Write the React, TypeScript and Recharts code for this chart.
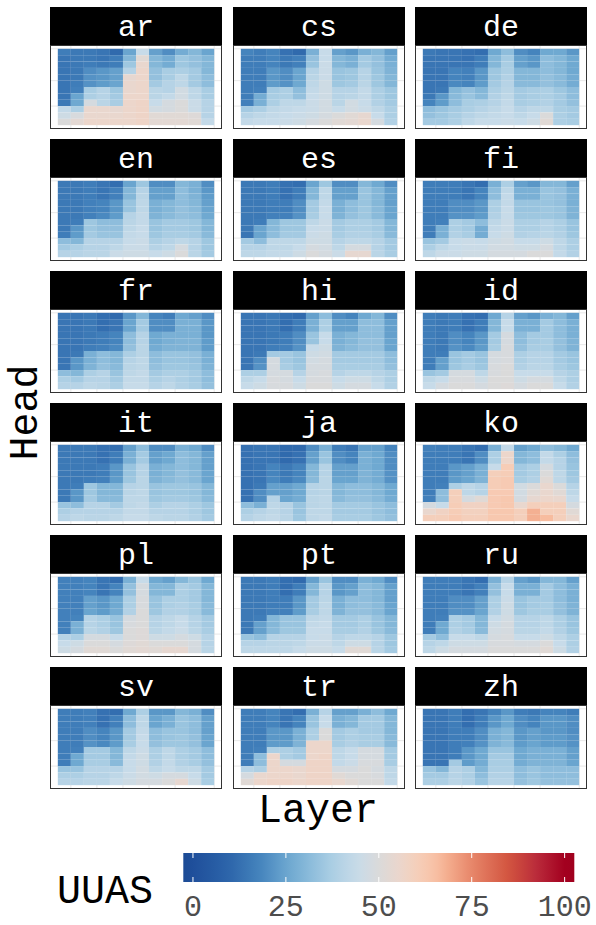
import React from 'react';
import { ScatterChart, Scatter, XAxis, YAxis, CartesianGrid } from 'recharts';

// ---------- data: UUAS per layer (outer) and head (inner, top to bottom) ----------
const languages = ['ar', 'cs', 'de', 'en', 'es', 'fi', 'fr', 'hi', 'id', 'it', 'ja', 'ko', 'pl', 'pt', 'ru', 'sv', 'tr', 'zh'];
const layerIds = [1, 2, 3, 4, 5, 6, 7, 8, 9, 10, 11, 12];
const headIds = [12, 11, 10, 9, 8, 7, 6, 5, 4, 3, 2, 1];
const legendTicks = [0, 25, 50, 75, 100];

const ar = [
  [16, 14, 14, 14, 14, 14, 14, 14, 15, 43, 46, 50],
  [15, 15, 15, 15, 15, 16, 17, 25, 26, 38, 49, 53],
  [15, 15, 16, 20, 21, 21, 37, 38, 48, 55, 55, 56],
  [14, 14, 15, 22, 22, 23, 40, 40, 41, 55, 55, 56],
  [11, 16, 16, 24, 24, 25, 35, 36, 37, 54, 55, 56],
  [25, 30, 35, 40, 54, 55, 55, 56, 56, 56, 56, 56],
  [44, 52, 55, 56, 56, 56, 56, 56, 57, 57, 57, 57],
  [24, 30, 30, 33, 33, 36, 41, 41, 44, 47, 52, 53],
  [20, 27, 27, 37, 37, 40, 40, 43, 48, 48, 52, 53],
  [27, 35, 35, 38, 42, 42, 47, 47, 50, 50, 52, 53],
  [30, 33, 33, 36, 36, 36, 42, 42, 45, 45, 51, 52],
  [25, 30, 30, 30, 32, 32, 37, 37, 40, 40, 40, 43],
];
const cs = [
  [18, 16, 16, 16, 16, 16, 16, 16, 17, 36, 40, 43],
  [16, 16, 16, 16, 16, 16, 17, 27, 28, 38, 42, 44],
  [18, 18, 18, 22, 22, 23, 36, 37, 38, 42, 43, 44],
  [13, 15, 15, 20, 20, 21, 38, 38, 42, 43, 44, 45],
  [11, 17, 17, 25, 25, 26, 32, 33, 42, 44, 45, 46],
  [28, 33, 34, 40, 41, 42, 43, 44, 45, 45, 46, 48],
  [44, 44, 45, 45, 45, 46, 46, 46, 47, 47, 48, 50],
  [24, 30, 30, 34, 34, 35, 40, 40, 41, 44, 50, 52],
  [22, 28, 28, 35, 35, 36, 40, 41, 47, 47, 52, 53],
  [28, 36, 36, 40, 40, 41, 43, 43, 44, 45, 54, 55],
  [30, 33, 33, 34, 35, 35, 38, 38, 39, 42, 44, 48],
  [24, 27, 28, 29, 30, 30, 35, 35, 36, 38, 38, 39],
];
const de = [
  [15, 14, 14, 14, 14, 14, 14, 15, 18, 32, 33, 36],
  [14, 14, 14, 14, 14, 14, 15, 22, 23, 34, 35, 36],
  [14, 14, 14, 18, 18, 19, 30, 31, 32, 36, 37, 38],
  [13, 13, 14, 17, 17, 18, 33, 34, 37, 38, 40, 42],
  [12, 16, 16, 22, 22, 23, 30, 31, 38, 40, 42, 44],
  [26, 30, 30, 35, 35, 36, 38, 39, 40, 42, 43, 44],
  [32, 36, 37, 38, 39, 40, 41, 42, 43, 44, 44, 45],
  [20, 24, 24, 30, 30, 31, 36, 36, 37, 40, 42, 44],
  [18, 22, 22, 30, 30, 31, 37, 37, 38, 42, 44, 46],
  [26, 32, 32, 32, 33, 33, 38, 38, 39, 42, 50, 52],
  [26, 30, 30, 30, 31, 31, 35, 36, 36, 37, 38, 38],
  [22, 26, 26, 26, 27, 27, 32, 32, 33, 36, 36, 37],
];
const en = [
  [15, 15, 15, 15, 15, 15, 15, 15, 16, 32, 36, 40],
  [15, 15, 15, 15, 15, 15, 16, 22, 23, 30, 38, 40],
  [16, 16, 16, 17, 17, 17, 35, 35, 36, 40, 40, 41],
  [14, 14, 14, 18, 18, 19, 32, 33, 34, 40, 40, 41],
  [12, 17, 17, 22, 22, 23, 32, 33, 34, 40, 42, 45],
  [25, 30, 30, 34, 34, 40, 41, 42, 43, 44, 45, 46],
  [35, 40, 41, 42, 42, 43, 43, 44, 44, 45, 45, 46],
  [20, 24, 24, 28, 28, 29, 34, 34, 35, 38, 40, 44],
  [20, 24, 24, 30, 30, 31, 36, 36, 37, 40, 42, 46],
  [30, 32, 32, 32, 33, 33, 36, 36, 37, 42, 48, 50],
  [28, 28, 29, 30, 31, 32, 35, 35, 36, 40, 40, 41],
  [20, 22, 23, 24, 25, 26, 30, 30, 31, 35, 35, 36],
];
const es = [
  [15, 15, 15, 15, 15, 15, 15, 15, 14, 36, 40, 42],
  [15, 15, 15, 15, 15, 15, 16, 25, 25, 32, 40, 42],
  [16, 16, 16, 16, 16, 17, 30, 31, 32, 42, 42, 43],
  [13, 13, 13, 16, 16, 17, 35, 35, 36, 42, 42, 43],
  [12, 16, 16, 20, 20, 21, 35, 35, 36, 42, 44, 46],
  [25, 30, 30, 36, 36, 37, 42, 44, 45, 46, 48, 50],
  [35, 42, 42, 43, 44, 44, 45, 45, 46, 46, 47, 48],
  [20, 24, 24, 28, 28, 29, 36, 36, 37, 40, 42, 45],
  [20, 24, 24, 32, 32, 33, 38, 38, 39, 42, 48, 54],
  [30, 34, 34, 34, 35, 35, 38, 38, 39, 42, 48, 54],
  [26, 30, 30, 30, 31, 31, 36, 36, 37, 40, 40, 41],
  [20, 24, 24, 24, 25, 25, 30, 30, 31, 36, 36, 37],
];
const fi = [
  [16, 16, 16, 16, 16, 16, 16, 16, 16, 34, 38, 42],
  [16, 16, 16, 16, 16, 16, 17, 28, 28, 36, 42, 45],
  [16, 16, 16, 20, 20, 21, 38, 38, 39, 44, 44, 45],
  [14, 14, 14, 20, 20, 21, 36, 36, 37, 45, 45, 46],
  [12, 18, 18, 22, 22, 23, 32, 27, 27, 44, 45, 46],
  [28, 32, 32, 38, 38, 39, 42, 43, 44, 46, 47, 48],
  [38, 42, 43, 43, 44, 44, 45, 45, 46, 47, 47, 48],
  [24, 28, 28, 34, 34, 35, 38, 38, 39, 44, 46, 48],
  [22, 28, 28, 34, 34, 35, 38, 38, 40, 44, 46, 50],
  [30, 34, 34, 34, 35, 35, 40, 40, 41, 46, 48, 50],
  [30, 33, 33, 33, 34, 34, 38, 38, 39, 42, 42, 43],
  [24, 28, 28, 28, 29, 29, 34, 34, 35, 38, 38, 39],
];
const fr = [
  [14, 14, 14, 14, 14, 14, 14, 14, 14, 32, 38, 40],
  [14, 14, 14, 14, 14, 14, 15, 22, 22, 30, 36, 40],
  [15, 15, 15, 15, 15, 16, 28, 28, 29, 38, 40, 42],
  [12, 12, 12, 16, 16, 17, 32, 32, 33, 40, 40, 41],
  [11, 14, 14, 18, 18, 19, 30, 30, 31, 34, 36, 38],
  [22, 25, 25, 32, 32, 33, 38, 40, 41, 42, 43, 44],
  [30, 36, 36, 40, 40, 41, 41, 42, 42, 43, 43, 44],
  [18, 20, 20, 26, 26, 27, 32, 32, 33, 36, 38, 40],
  [16, 20, 20, 28, 28, 29, 34, 34, 35, 38, 40, 42],
  [26, 28, 28, 28, 29, 29, 34, 34, 35, 38, 38, 39],
  [24, 28, 28, 28, 29, 29, 33, 33, 34, 36, 36, 37],
  [20, 22, 22, 22, 23, 23, 28, 28, 29, 32, 32, 33],
];
const hi = [
  [14, 14, 14, 14, 14, 14, 14, 14, 14, 38, 42, 44],
  [14, 14, 14, 14, 14, 14, 15, 20, 21, 38, 44, 46],
  [15, 15, 15, 15, 15, 16, 36, 48, 48, 48, 49, 49],
  [12, 12, 12, 16, 16, 17, 36, 36, 37, 48, 48, 49],
  [11, 16, 16, 20, 20, 21, 34, 34, 35, 40, 44, 46],
  [24, 28, 28, 34, 34, 44, 46, 47, 48, 48, 49, 50],
  [32, 38, 38, 44, 44, 46, 47, 48, 48, 49, 49, 50],
  [20, 24, 24, 28, 28, 29, 36, 36, 37, 40, 44, 46],
  [18, 24, 24, 30, 30, 31, 36, 36, 37, 42, 46, 48],
  [26, 32, 32, 32, 33, 33, 36, 36, 37, 42, 46, 48],
  [30, 32, 32, 32, 33, 33, 36, 36, 37, 40, 42, 44],
  [20, 24, 24, 24, 25, 25, 32, 32, 33, 38, 38, 39],
];
const id = [
  [16, 16, 16, 16, 16, 16, 16, 16, 16, 34, 42, 44],
  [15, 15, 15, 15, 15, 15, 16, 24, 24, 36, 44, 48],
  [16, 16, 16, 20, 20, 21, 34, 34, 35, 48, 49, 50],
  [13, 13, 13, 18, 18, 19, 36, 36, 37, 48, 49, 50],
  [12, 16, 16, 22, 22, 23, 34, 34, 35, 42, 46, 48],
  [26, 30, 30, 36, 36, 37, 48, 48, 49, 49, 50, 50],
  [40, 44, 44, 48, 48, 49, 49, 49, 50, 50, 50, 51],
  [24, 28, 28, 32, 32, 33, 38, 38, 39, 44, 46, 48],
  [22, 28, 28, 36, 36, 37, 40, 40, 41, 44, 48, 50],
  [28, 36, 36, 36, 37, 37, 40, 40, 41, 44, 48, 50],
  [30, 32, 32, 32, 33, 33, 36, 36, 37, 40, 42, 44],
  [24, 28, 28, 28, 29, 29, 34, 34, 35, 38, 38, 39],
];
const it = [
  [15, 15, 15, 15, 15, 15, 15, 15, 15, 34, 38, 40],
  [15, 15, 15, 15, 15, 15, 16, 22, 22, 32, 40, 42],
  [15, 15, 15, 15, 15, 16, 35, 35, 36, 40, 40, 41],
  [13, 13, 13, 16, 16, 17, 30, 30, 31, 40, 40, 41],
  [12, 16, 16, 22, 22, 23, 30, 30, 31, 36, 40, 42],
  [24, 28, 28, 34, 34, 35, 40, 41, 42, 42, 43, 44],
  [32, 36, 36, 40, 40, 41, 41, 42, 42, 43, 43, 44],
  [20, 24, 24, 28, 28, 29, 34, 34, 35, 38, 40, 42],
  [20, 26, 26, 30, 30, 31, 35, 35, 36, 40, 40, 41],
  [28, 32, 32, 32, 33, 33, 35, 35, 36, 40, 40, 41],
  [26, 30, 30, 30, 31, 31, 34, 34, 35, 38, 38, 39],
  [20, 24, 24, 24, 25, 25, 30, 30, 31, 35, 35, 36],
];
const ja = [
  [13, 13, 13, 13, 13, 13, 13, 13, 13, 32, 38, 40],
  [14, 14, 14, 14, 14, 14, 15, 20, 20, 28, 40, 42],
  [14, 14, 14, 18, 18, 19, 24, 24, 40, 42, 42, 43],
  [11, 11, 11, 15, 15, 16, 24, 24, 25, 40, 40, 41],
  [11, 13, 13, 18, 18, 19, 26, 26, 27, 34, 34, 35],
  [20, 24, 24, 30, 30, 31, 40, 40, 41, 41, 42, 42],
  [28, 34, 34, 40, 40, 41, 41, 41, 42, 42, 42, 43],
  [16, 20, 20, 24, 24, 25, 30, 30, 31, 36, 36, 37],
  [14, 18, 18, 24, 24, 25, 32, 32, 33, 36, 36, 37],
  [24, 28, 28, 28, 29, 29, 32, 32, 33, 36, 36, 37],
  [24, 26, 26, 26, 27, 27, 30, 30, 31, 34, 34, 35],
  [18, 20, 20, 20, 21, 21, 26, 26, 27, 32, 32, 33],
];
const ko = [
  [17, 16, 16, 16, 16, 16, 16, 16, 17, 48, 55, 60],
  [16, 16, 16, 16, 16, 16, 17, 32, 32, 44, 58, 60],
  [16, 16, 16, 22, 22, 23, 38, 60, 60, 61, 61, 62],
  [14, 14, 14, 24, 24, 25, 42, 42, 48, 58, 59, 60],
  [12, 20, 20, 28, 28, 29, 40, 40, 52, 58, 59, 60],
  [28, 38, 38, 44, 60, 61, 61, 62, 62, 62, 63, 63],
  [43, 56, 56, 61, 61, 62, 62, 62, 63, 63, 63, 63],
  [24, 30, 30, 36, 36, 37, 47, 47, 48, 55, 60, 60],
  [26, 32, 32, 38, 38, 39, 50, 52, 54, 60, 68, 68],
  [32, 43, 43, 48, 50, 52, 55, 55, 56, 60, 60, 66],
  [30, 38, 40, 40, 42, 42, 50, 52, 55, 60, 60, 60],
  [26, 32, 33, 34, 35, 36, 40, 42, 44, 48, 52, 55],
];
const pl = [
  [17, 17, 17, 17, 17, 17, 17, 17, 17, 40, 44, 46],
  [17, 17, 17, 17, 17, 17, 18, 28, 28, 38, 46, 48],
  [18, 18, 18, 24, 24, 25, 40, 40, 41, 48, 50, 52],
  [14, 14, 14, 22, 22, 23, 38, 38, 39, 48, 50, 52],
  [12, 18, 18, 26, 26, 27, 34, 34, 35, 44, 48, 50],
  [28, 33, 33, 38, 38, 39, 48, 49, 50, 50, 51, 52],
  [44, 48, 48, 49, 49, 50, 50, 50, 51, 51, 52, 53],
  [26, 30, 30, 34, 34, 35, 40, 40, 41, 46, 50, 52],
  [24, 30, 30, 38, 38, 39, 42, 42, 43, 46, 50, 54],
  [30, 38, 38, 38, 39, 39, 44, 44, 45, 48, 50, 54],
  [34, 36, 36, 36, 37, 37, 40, 40, 41, 46, 48, 48],
  [26, 30, 30, 30, 31, 31, 36, 36, 37, 40, 40, 41],
];
const pt = [
  [15, 15, 15, 15, 15, 15, 15, 15, 15, 34, 40, 42],
  [15, 15, 15, 15, 15, 15, 16, 24, 24, 32, 40, 42],
  [16, 16, 16, 16, 16, 17, 30, 30, 31, 40, 41, 42],
  [12, 12, 12, 16, 16, 17, 34, 34, 35, 40, 41, 42],
  [11, 16, 16, 22, 22, 23, 34, 34, 35, 40, 42, 44],
  [24, 30, 30, 36, 36, 37, 42, 43, 44, 44, 45, 46],
  [34, 40, 40, 41, 42, 42, 43, 44, 44, 45, 45, 46],
  [20, 22, 22, 28, 28, 29, 36, 36, 37, 40, 42, 44],
  [20, 24, 24, 32, 32, 33, 36, 36, 37, 42, 46, 52],
  [28, 32, 32, 32, 33, 33, 38, 38, 39, 42, 46, 52],
  [26, 30, 30, 30, 31, 31, 34, 34, 35, 40, 40, 41],
  [20, 24, 24, 24, 25, 25, 30, 30, 31, 35, 35, 36],
];
const ru = [
  [16, 16, 16, 16, 16, 16, 16, 16, 16, 36, 40, 42],
  [16, 16, 16, 16, 16, 16, 17, 26, 26, 32, 42, 46],
  [16, 16, 16, 20, 20, 21, 38, 38, 39, 44, 46, 48],
  [14, 14, 14, 20, 20, 21, 36, 36, 37, 44, 46, 48],
  [12, 17, 17, 24, 24, 25, 30, 30, 31, 42, 46, 48],
  [28, 33, 33, 38, 38, 39, 44, 46, 47, 48, 49, 50],
  [40, 44, 44, 45, 46, 46, 47, 48, 48, 49, 49, 50],
  [24, 28, 28, 34, 34, 35, 40, 40, 41, 44, 48, 50],
  [22, 28, 28, 36, 36, 37, 40, 40, 41, 44, 48, 50],
  [30, 36, 36, 36, 37, 37, 42, 42, 43, 46, 50, 52],
  [30, 32, 32, 32, 33, 33, 38, 38, 39, 42, 44, 46],
  [24, 28, 28, 28, 29, 29, 34, 34, 35, 38, 38, 39],
];
const sv = [
  [16, 16, 16, 16, 16, 16, 16, 16, 16, 34, 38, 40],
  [16, 16, 16, 16, 16, 16, 17, 26, 26, 34, 38, 40],
  [17, 17, 17, 20, 20, 21, 36, 36, 37, 40, 40, 41],
  [13, 13, 13, 18, 18, 19, 36, 36, 37, 40, 40, 41],
  [12, 17, 17, 22, 22, 23, 30, 30, 31, 40, 42, 44],
  [26, 32, 32, 36, 36, 37, 42, 43, 44, 44, 45, 46],
  [38, 42, 42, 43, 44, 44, 45, 46, 46, 47, 47, 48],
  [22, 25, 25, 32, 32, 33, 38, 38, 39, 42, 46, 48],
  [22, 28, 28, 34, 34, 35, 42, 42, 43, 44, 48, 50],
  [30, 34, 34, 34, 35, 35, 38, 38, 39, 42, 48, 54],
  [28, 32, 32, 32, 33, 33, 36, 36, 37, 42, 44, 46],
  [20, 24, 24, 24, 25, 25, 32, 32, 33, 36, 36, 37],
];
const tr = [
  [16, 16, 16, 16, 16, 16, 16, 16, 16, 40, 48, 52],
  [16, 16, 16, 16, 16, 16, 17, 32, 32, 38, 55, 56],
  [18, 18, 18, 22, 22, 23, 38, 56, 56, 56, 56, 57],
  [14, 14, 14, 22, 22, 23, 38, 38, 48, 56, 56, 57],
  [12, 18, 18, 28, 28, 29, 36, 36, 48, 55, 55, 56],
  [28, 34, 34, 38, 38, 56, 56, 56, 57, 57, 57, 57],
  [40, 44, 44, 50, 50, 56, 56, 57, 57, 57, 57, 57],
  [24, 28, 28, 36, 36, 37, 42, 42, 43, 48, 52, 55],
  [24, 30, 30, 38, 38, 39, 44, 44, 45, 48, 50, 52],
  [28, 36, 36, 36, 37, 37, 48, 48, 49, 50, 50, 50],
  [32, 36, 36, 36, 37, 37, 48, 48, 49, 48, 49, 50],
  [26, 30, 30, 30, 31, 31, 36, 36, 37, 42, 42, 43],
];
const zh = [
  [14, 14, 14, 14, 14, 14, 14, 14, 14, 34, 36, 38],
  [14, 14, 14, 14, 14, 14, 14, 14, 14, 30, 36, 38],
  [16, 16, 16, 16, 16, 16, 16, 16, 36, 40, 40, 41],
  [12, 12, 12, 16, 16, 17, 22, 22, 23, 38, 38, 39],
  [14, 16, 16, 20, 20, 21, 26, 26, 27, 30, 32, 34],
  [18, 22, 22, 28, 28, 29, 34, 36, 37, 38, 39, 40],
  [22, 26, 26, 30, 30, 31, 34, 36, 37, 38, 39, 40],
  [16, 20, 20, 22, 22, 23, 26, 26, 27, 32, 32, 33],
  [15, 18, 18, 24, 24, 25, 28, 28, 29, 34, 34, 35],
  [18, 22, 22, 22, 23, 23, 28, 28, 29, 32, 32, 33],
  [18, 22, 22, 22, 23, 23, 28, 28, 29, 32, 32, 33],
  [16, 20, 20, 20, 21, 21, 24, 24, 25, 32, 32, 33],
];

const panelValues: Record<string, number[][]> = { ar, cs, de, en, es, fi, fr, hi, id, it, ja, ko, pl, pt, ru, sv, tr, zh };

// ---------- colour scale ----------
const colorStops: [number, string][] = [
  [-3, '#1c4a94'],
  [0, '#1f4f9b'],
  [10, '#2d66ab'],
  [18, '#4584bd'],
  [25, '#6aa5cf'],
  [31, '#89bada'],
  [37, '#a9cde3'],
  [44, '#c7dbe9'],
  [50, '#dadada'],
  [56, '#ecd6cb'],
  [61, '#f6cdb7'],
  [65, '#f8c2a6'],
  [69, '#f3aa8b'],
  [75, '#e7866a'],
  [85, '#d2543f'],
  [93, '#b8283a'],
  [100, '#a3001f'],
  [103, '#9f001e'],
];

function hexToRgb(h: string) {
  return [parseInt(h.slice(1, 3), 16), parseInt(h.slice(3, 5), 16), parseInt(h.slice(5, 7), 16)];
}
function uuasColor(v: number): string {
  if (v <= colorStops[0][0]) return colorStops[0][1];
  for (let i = 1; i < colorStops.length; i++) {
    const [v1, c1] = colorStops[i];
    const [v0, c0] = colorStops[i - 1];
    if (v <= v1) {
      const t = (v - v0) / (v1 - v0);
      const a = hexToRgb(c0);
      const b = hexToRgb(c1);
      const m = a.map((x, k) => Math.round(x + (b[k] - x) * t));
      return `rgb(${m[0]},${m[1]},${m[2]})`;
    }
  }
  return colorStops[colorStops.length - 1][1];
}

// ---------- layout ----------
const FONT = "'Liberation Mono', 'Courier New', monospace";
const PW = 172;
const PH = 84;
const STRIP_H = 38;
const COL_X = [50, 232.5, 415];
const ROW_Y0 = 7.4;
const ROW_PITCH = 131.9;
const DOMAIN: [number, number] = [-0.1, 13.1];
const GRID_TICKS = [0.5, 1.5, 2.5, 3.5, 4.5, 5.5, 6.5, 7.5, 8.5, 9.5, 10.5, 11.5, 12.5];
const SPAN = DOMAIN[1] - DOMAIN[0];

const Tile = (props: any) => {
  const { cx, cy, payload } = props;
  if (cx == null || cy == null) return null;
  const w = PW / SPAN;
  const h = PH / SPAN;
  return <rect x={cx - w / 2} y={cy - h / 2} width={w} height={h} fill={uuasColor(payload.uuas)} />;
};

function Panel({ name, index }: { name: string; index: number }) {
  const col = index % 3;
  const row = Math.floor(index / 3);
  const left = COL_X[col];
  const top = ROW_Y0 + row * ROW_PITCH;
  const values = panelValues[name];
  const cells: { layer: number; head: number; uuas: number }[] = [];
  values.forEach((heads, li) =>
    heads.forEach((v, hi) => cells.push({ layer: layerIds[li], head: headIds[hi], uuas: v }))
  );
  return (
    <div style={{ position: 'absolute', left, top, width: PW }}>
      <svg width={PW} height={STRIP_H} style={{ display: 'block' }}>
        <rect x={0} y={0} width={PW} height={STRIP_H} fill="#000" />
        <text x={PW / 2} y={29} textAnchor="middle" fill="#fff" fontFamily={FONT} fontSize={30}>
          {name}
        </text>
      </svg>
      <div style={{ position: 'relative', width: PW, height: PH }}>
        <ScatterChart width={PW} height={PH} margin={{ top: 0, right: 0, bottom: 0, left: 0 }}>
          <CartesianGrid stroke="#e2e2e2" strokeWidth={0.8} />
          <XAxis type="number" dataKey="layer" domain={DOMAIN} ticks={GRID_TICKS} hide allowDataOverflow />
          <YAxis type="number" dataKey="head" domain={DOMAIN} ticks={GRID_TICKS} hide allowDataOverflow />
          <Scatter data={cells} shape={Tile} isAnimationActive={false} />
        </ScatterChart>
        <div
          style={{
            position: 'absolute',
            left: 0,
            top: 0,
            width: PW,
            height: PH,
            boxSizing: 'border-box',
            border: '1.2px solid #333',
            pointerEvents: 'none',
          }}
        />
      </div>
    </div>
  );
}

// legend geometry
const BAR_X0 = 183.3;
const BAR_X1 = 574.3;
const BAR_Y0 = 853;
const BAR_Y1 = 882;
const V0 = -2.6;
const V1 = 102.6;
const vx = (v: number) => BAR_X0 + ((v - V0) / (V1 - V0)) * (BAR_X1 - BAR_X0);

export default function App() {
  const gradStops: number[] = [];
  for (let v = V0; v <= V1 + 0.001; v += 2.63) gradStops.push(v);
  return (
    <div style={{ position: 'absolute', left: 0, top: 0, width: 596, height: 925, background: '#fff', overflow: 'hidden' }}>
      {languages.map((l, i) => (
        <Panel key={l} name={l} index={i} />
      ))}
      <svg width={596} height={925} style={{ position: 'absolute', left: 0, top: 0, pointerEvents: 'none' }}>
        <defs>
          <linearGradient id="uuasGrad" x1="0" x2="1" y1="0" y2="0">
            {gradStops.map((v) => (
              <stop key={v} offset={(v - V0) / (V1 - V0)} stopColor={uuasColor(v)} />
            ))}
          </linearGradient>
        </defs>
        <text x={318} y={821.5} textAnchor="middle" fontFamily={FONT} fontSize={40} fill="#000">
          Layer
        </text>
        <text
          x={0}
          y={0}
          transform="translate(36.5,412.5) rotate(-90)"
          textAnchor="middle"
          fontFamily={FONT}
          fontSize={40}
          fill="#000"
        >
          Head
        </text>
        <rect x={BAR_X0} y={BAR_Y0} width={BAR_X1 - BAR_X0} height={BAR_Y1 - BAR_Y0} fill="url(#uuasGrad)" />
        {legendTicks.map((t) => (
          <g key={t}>
            <line x1={vx(t)} x2={vx(t)} y1={BAR_Y0} y2={BAR_Y0 + 5} stroke="#fff" strokeWidth={1} />
            <line x1={vx(t)} x2={vx(t)} y1={BAR_Y1 - 5} y2={BAR_Y1} stroke="#fff" strokeWidth={1} />
            <text x={vx(t)} y={916} textAnchor="middle" fontFamily={FONT} fontSize={30} fill="#4d4d4d">
              {t}
            </text>
          </g>
        ))}
        <text x={57} y={903} fontFamily={FONT} fontSize={40} fill="#000">
          UUAS
        </text>
      </svg>
    </div>
  );
}
